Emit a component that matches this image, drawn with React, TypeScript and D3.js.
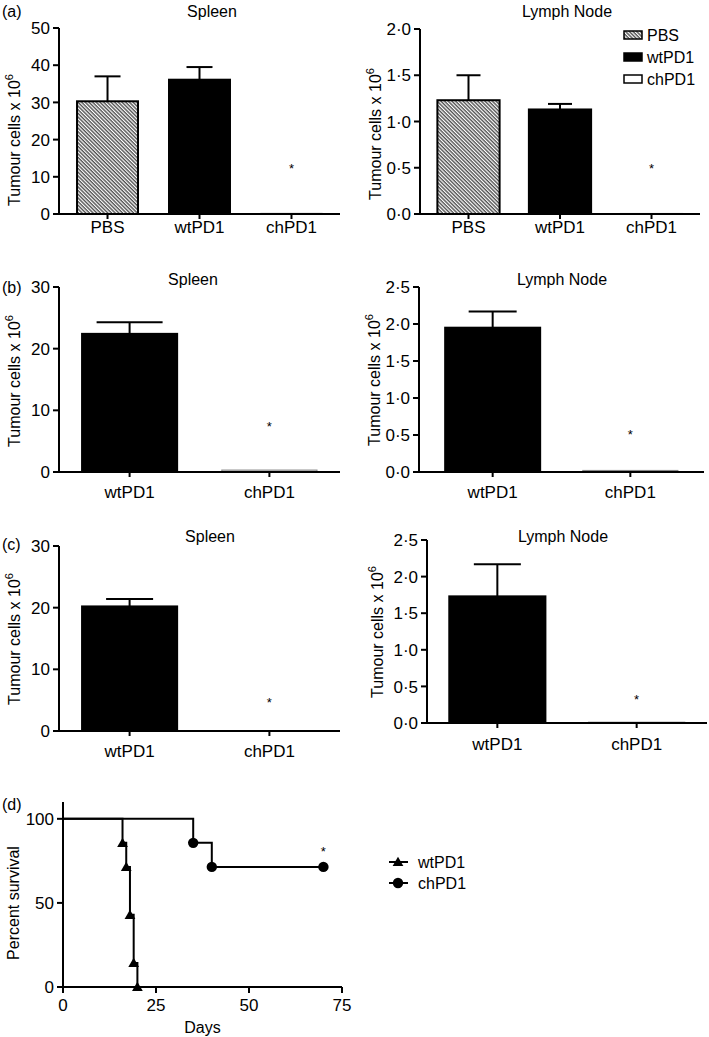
import * as d3 from 'd3'

// bar groups
const GROUPS_A = ['PBS', 'wtPD1', 'chPD1']
const GROUPS_BC = ['wtPD1', 'chPD1']

// panel (a)
const SPLEEN_A = [30.3, 36.1, 0.15]
const SPLEEN_A_ERR = [6.7, 3.4, 0]
const NODE_A = [1.23, 1.13, 0.005]
const NODE_A_ERR = [0.27, 0.06, 0]

// panel (b)
const SPLEEN_B = [22.4, 0.3]
const SPLEEN_B_ERR = [1.9, 0]
const NODE_B = [1.95, 0.02]
const NODE_B_ERR = [0.22, 0]

// panel (c)
const SPLEEN_C = [20.2, 0.05]
const SPLEEN_C_ERR = [1.2, 0]
const NODE_C = [1.73, 0.01]
const NODE_C_ERR = [0.44, 0]

// where the * sits (data units)
const STAR_A = [13.2, 0.53]
const STAR_B = [7.9, 0.55]
const STAR_C = [5.2, 0.37]

// panel (d) survival
const WT_DAYS = [0, 16, 17, 18, 19, 20]
const WT_SURV = [100, 85.7, 71.4, 42.9, 14.3, 0]
const CH_DAYS = [0, 35, 40, 70]
const CH_SURV = [100, 85.7, 71.4, 71.4]
const DAY_TICKS = [0, 25, 50, 75]
const SURV_TICKS = [0, 50, 100]

const FONT = 'Liberation Sans, Arial, Helvetica, sans-serif'

const FILLS: Record<string, string> = {
  PBS: 'url(#hatch)',
  wtPD1: '#000',
  chPD1: '#fff'
}

const fmtDot = (v: number) => d3.format('.1f')(v).replace('.', '·')

type BarPanelProps = {
  tag?: string
  tagY?: number
  title: string
  titleX: number
  titleY: number
  x0: number
  x1: number
  yTop: number
  yBottom: number
  max: number
  tickCount: number
  decimal?: boolean
  groups: string[]
  values: number[]
  errors: number[]
  star: number
  paddingInner: number
  paddingOuter: number
  capWidth: number
  yLabelX: number
  yLabelY: number
  xLabelY: number
}

function BarPanel(p: BarPanelProps) {
  const y = d3.scaleLinear().domain([0, p.max]).range([p.yBottom, p.yTop])
  const x = d3.scaleBand()
    .domain(p.groups)
    .range([p.x0, p.x1])
    .paddingInner(p.paddingInner)
    .paddingOuter(p.paddingOuter)
  const ticks = y.ticks(p.tickCount)
  const bw = x.bandwidth()
  const last = p.groups[p.groups.length - 1]

  return (
    <g fontFamily={FONT}>
      {p.tag && (
        <text x={2} y={p.tagY} fontSize={16}>{p.tag}</text>
      )}
      <text x={p.titleX} y={p.titleY} textAnchor="middle" fontSize={16}>{p.title}</text>

      {/* Y axis */}
      <line x1={p.x0} x2={p.x0} y1={p.yBottom} y2={p.yTop} stroke="#000" strokeWidth={2} />
      {ticks.map(t => (
        <g key={t}>
          <line x1={p.x0 - 6} x2={p.x0} y1={y(t)} y2={y(t)} stroke="#000" strokeWidth={2} />
          <text x={p.x0 - 9} y={y(t)} dy="0.36em" textAnchor="end" fontSize={17}>
            {p.decimal ? fmtDot(t) : t}
          </text>
        </g>
      ))}
      <text
        transform={`translate(${p.yLabelX}, ${p.yLabelY}) rotate(-90)`}
        textAnchor="middle"
        fontSize={16}
      >
        Tumour cells x 10<tspan dy="-7" fontSize={11}>6</tspan>
      </text>

      {/* Bars */}
      {p.groups.map((g, i) => {
        const bx = x(g)!
        const cx = bx + bw / 2
        const top = y(p.values[i])
        const errTop = y(p.values[i] + p.errors[i])
        return (
          <g key={g}>
            {p.errors[i] > 0 && (
              <g stroke="#000" strokeWidth={2}>
                <line x1={cx} x2={cx} y1={top} y2={errTop} />
                <line x1={cx - p.capWidth / 2} x2={cx + p.capWidth / 2} y1={errTop} y2={errTop} />
              </g>
            )}
            <rect
              x={bx}
              y={top}
              width={bw}
              height={Math.max(0.5, p.yBottom - top)}
              fill={FILLS[g]}
              stroke={g === 'chPD1' ? '#888' : '#000'}
              strokeWidth={g === 'chPD1' ? 1.2 : 2}
            />
            <line x1={cx} x2={cx} y1={p.yBottom} y2={p.yBottom + 5} stroke="#000" strokeWidth={2} />
            <text x={cx} y={p.xLabelY} textAnchor="middle" fontSize={17}>{g}</text>
          </g>
        )
      })}

      {/* X axis */}
      <line x1={p.x0} x2={p.x1} y1={p.yBottom} y2={p.yBottom} stroke="#000" strokeWidth={2} />

      <text
        x={x(last)! + bw / 2}
        y={y(p.star)}
        dy="0.6em"
        textAnchor="middle"
        fontSize={13}
      >
        *
      </text>
    </g>
  )
}

function Legend() {
  const rows = GROUPS_A.map((g, i) => ({ g, i }))
  return (
    <g fontFamily={FONT} fontSize={16}>
      {rows.map(({ g, i }) => (
        <g key={g} transform={`translate(624, ${35 + i * 22})`}>
          <rect x={0} y={-4} width={18} height={8} fill={FILLS[g]} stroke="#000" strokeWidth={1.5} />
          <text x={23} y={0} dy="0.36em">{g}</text>
        </g>
      ))}
    </g>
  )
}

function Survival() {
  const x = d3.scaleLinear().domain([0, 75]).range([63, 342])
  const y = d3.scaleLinear().domain([0, 110]).range([987, 802])
  const line = d3.line<[number, number]>()
    .x(d => x(d[0]))
    .y(d => y(d[1]))
    .curve(d3.curveStepAfter)
  const wt: [number, number][] = WT_DAYS.map((d, i) => [d, WT_SURV[i]])
  const ch: [number, number][] = CH_DAYS.map((d, i) => [d, CH_SURV[i]])
  const tri = d3.symbol(d3.symbolTriangle, 50)()
  const circ = d3.symbol(d3.symbolCircle, 85)()

  return (
    <g fontFamily={FONT}>
      <text x={2} y={810} fontSize={16}>(d)</text>

      <path d={line(ch)!} fill="none" stroke="#000" strokeWidth={2} />
      <path d={line(wt)!} fill="none" stroke="#000" strokeWidth={2} />

      {wt.slice(1).map((d, i) => (
        <path key={i} d={tri!} transform={`translate(${x(d[0])}, ${y(d[1]) + 1})`} fill="#000" />
      ))}
      {ch.slice(1).map((d, i) => (
        <path key={i} d={circ!} transform={`translate(${x(d[0])}, ${y(d[1])})`} fill="#000" />
      ))}
      <text x={x(70)} y={y(CH_SURV[CH_SURV.length - 1]) - 11} textAnchor="middle" fontSize={13}>*</text>

      {/* Axes */}
      <line x1={x(0)} x2={x(0)} y1={y(0)} y2={y(110)} stroke="#000" strokeWidth={2} />
      {SURV_TICKS.map(t => (
        <g key={t}>
          <line x1={x(0) - 6} x2={x(0)} y1={y(t)} y2={y(t)} stroke="#000" strokeWidth={2} />
          <text x={x(0) - 9} y={y(t)} dy="0.36em" textAnchor="end" fontSize={17}>{t}</text>
        </g>
      ))}
      <line x1={x(0)} x2={x(75)} y1={y(0)} y2={y(0)} stroke="#000" strokeWidth={2} />
      {DAY_TICKS.map(t => (
        <g key={t}>
          <line x1={x(t)} x2={x(t)} y1={y(0)} y2={y(0) + 6} stroke="#000" strokeWidth={2} />
          <text x={x(t)} y={1011} textAnchor="middle" fontSize={17}>{t}</text>
        </g>
      ))}
      <text x={x(37.5)} y={1033} textAnchor="middle" fontSize={16}>Days</text>
      <text transform="translate(19, 903) rotate(-90)" textAnchor="middle" fontSize={16}>
        Percent survival
      </text>

      {/* Legend */}
      <g fontSize={16}>
        <line x1={389} x2={408} y1={862} y2={862} stroke="#000" strokeWidth={2} />
        <path d={tri!} transform="translate(398, 863)" fill="#000" />
        <text x={418} y={862} dy="0.36em">wtPD1</text>
        <line x1={389} x2={408} y1={883} y2={883} stroke="#000" strokeWidth={2} />
        <path d={circ!} transform="translate(398, 883)" fill="#000" />
        <text x={418} y={883} dy="0.36em">chPD1</text>
      </g>
    </g>
  )
}

export default function App() {
  return (
    <div style={{ position: 'absolute', left: 0, top: 0 }}>
      <svg width={709} height={1037} style={{ display: 'block', background: '#fff' }}>
        <defs>
          <pattern id="hatch" width={2.6} height={2.6} patternUnits="userSpaceOnUse" patternTransform="rotate(-45)">
            <rect width={2.6} height={2.6} fill="#fff" />
            <line x1={1} x2={1} y1={0} y2={2.6} stroke="#222" strokeWidth={1.1} />
          </pattern>
        </defs>

        <BarPanel
          tag="(a)" tagY={17} title="Spleen" titleX={212} titleY={17}
          x0={59} x1={340} yTop={28} yBottom={214} max={50} tickCount={5}
          groups={GROUPS_A} values={SPLEEN_A} errors={SPLEEN_A_ERR} star={STAR_A[0]}
          paddingInner={0.337} paddingOuter={0.196} capWidth={26}
          yLabelX={20} yLabelY={140} xLabelY={233}
        />
        <BarPanel
          title="Lymph Node" titleX={567} titleY={17}
          x0={420} x1={700} yTop={29} yBottom={214} max={2} tickCount={5} decimal
          groups={GROUPS_A} values={NODE_A} errors={NODE_A_ERR} star={STAR_A[1]}
          paddingInner={0.32} paddingOuter={0.19} capWidth={24}
          yLabelX={381} yLabelY={134} xLabelY={233}
        />
        <Legend />

        <BarPanel
          tag="(b)" tagY={293} title="Spleen" titleX={193} titleY={285}
          x0={59} x1={340} yTop={287} yBottom={472} max={30} tickCount={3}
          groups={GROUPS_BC} values={SPLEEN_B} errors={SPLEEN_B_ERR} star={STAR_B[0]}
          paddingInner={0.32} paddingOuter={0.165} capWidth={66}
          yLabelX={20} yLabelY={381} xLabelY={498}
        />
        <BarPanel
          title="Lymph Node" titleX={562} titleY={285}
          x0={419} x1={704} yTop={287} yBottom={472} max={2.5} tickCount={5} decimal
          groups={GROUPS_BC} values={NODE_B} errors={NODE_B_ERR} star={STAR_B[1]}
          paddingInner={0.31} paddingOuter={0.19} capWidth={48}
          yLabelX={380} yLabelY={380} xLabelY={498}
        />

        <BarPanel
          tag="(c)" tagY={550} title="Spleen" titleX={210} titleY={542}
          x0={59} x1={340} yTop={546} yBottom={731} max={30} tickCount={3}
          groups={GROUPS_BC} values={SPLEEN_C} errors={SPLEEN_C_ERR} star={STAR_C[0]}
          paddingInner={0.32} paddingOuter={0.165} capWidth={47}
          yLabelX={20} yLabelY={639} xLabelY={757}
        />
        <BarPanel
          title="Lymph Node" titleX={563} titleY={542}
          x0={427} x1={707} yTop={540} yBottom={723} max={2.5} tickCount={5} decimal
          groups={GROUPS_BC} values={NODE_C} errors={NODE_C_ERR} star={STAR_C[1]}
          paddingInner={0.31} paddingOuter={0.16} capWidth={47}
          yLabelX={383} yLabelY={632} xLabelY={750}
        />

        <Survival />
      </svg>
    </div>
  )
}
